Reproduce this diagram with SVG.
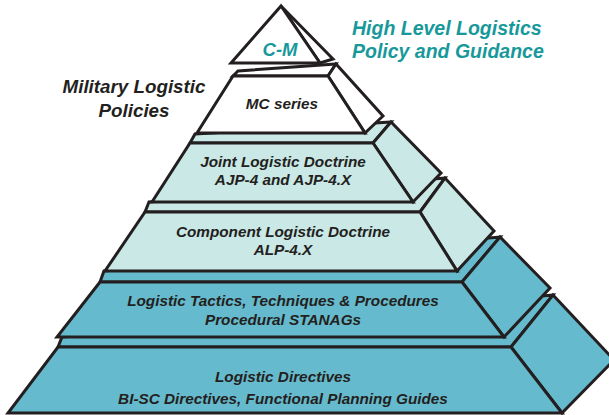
<svg xmlns="http://www.w3.org/2000/svg" width="609" height="415" viewBox="0 0 609 415">
<style>
.s{stroke:#231f20;stroke-width:3;stroke-linejoin:miter;stroke-miterlimit:10}
.w{fill:#ffffff}
.l{fill:#c9e8e6}
.d{fill:#66bacd}
.t{font-family:"Liberation Sans",Arial,sans-serif;font-weight:bold;font-style:italic;fill:#231f20;text-anchor:middle;font-size:15.3px}
.c{font-family:"Liberation Sans",Arial,sans-serif;font-weight:bold;font-style:italic;fill:#17999b}
</style>
<rect width="609" height="415" fill="#ffffff"/>
<g id="tier6">
<polygon class="s d" points="58,347 62,337 553,295 511,347"/>
<polygon class="s d" points="511,347 553,295 614,360 562,413"/>
<polygon class="s d" points="58,347 511,347 562,413 8,413"/>
<text class="t" x="283" y="382">Logistic Directives</text>
<text class="t" x="283" y="404">BI-SC Directives, Functional Planning Guides</text>
</g>
<g id="tier5">
<polygon class="s d" points="100,282 104,271 500,237 462,282"/>
<polygon class="s d" points="462,282 500,237 550,288 504,337"/>
<polygon class="s d" points="100,282 462,282 504,337 57,337"/>
<text class="t" x="283" y="306">Logistic Tactics, Techniques &amp; Procedures</text>
<text class="t" x="283" y="325">Procedural STANAGs</text>
</g>
<g id="tier4">
<polygon class="s l" points="145,212 149,202 445,178 420,212"/>
<polygon class="s l" points="420,212 445,178 494,231 457,271"/>
<polygon class="s l" points="145,212 420,212 457,271 105,271"/>
<text class="t" x="283" y="237">Component Logistic Doctrine</text>
<text class="t" x="283" y="255">ALP-4.X</text>
</g>
<g id="tier3">
<polygon class="s l" points="190,143 195,134 391,122 373,143"/>
<polygon class="s l" points="373,143 391,122 441,173 413,202"/>
<polygon class="s l" points="190,143 373,143 413,202 152,202"/>
<text class="t" x="283" y="167">Joint Logistic Doctrine</text>
<text class="t" x="283" y="185">AJP-4 and AJP-4.X</text>
</g>
<g id="tier2">
<polygon class="s w" points="233,76 238,71 336,64 328,76"/>
<polygon class="s w" points="328,76 336,64 383,116 365,133"/>
<polygon class="s w" points="233,76 328,76 365,133 197,133"/>
<text class="t" x="282" y="109">MC series</text>
</g>
<g id="tier1">
<polygon class="s w" points="281,6 333,59 320,63"/>
<polygon class="s w" points="281,6 320,63 231,63"/>
<text class="c" x="280" y="56" font-size="18.5" text-anchor="middle">C-M</text>
</g>
<g id="labels">
<text class="c" x="352" y="35" font-size="19.5">High Level Logistics</text>
<text class="c" x="352" y="58" font-size="19.5">Policy and Guidance</text>
<text class="t" x="134" y="93" style="font-size:18.8px">Military Logistic</text>
<text class="t" x="134" y="117" style="font-size:18.8px">Policies</text>
</g>
</svg>
